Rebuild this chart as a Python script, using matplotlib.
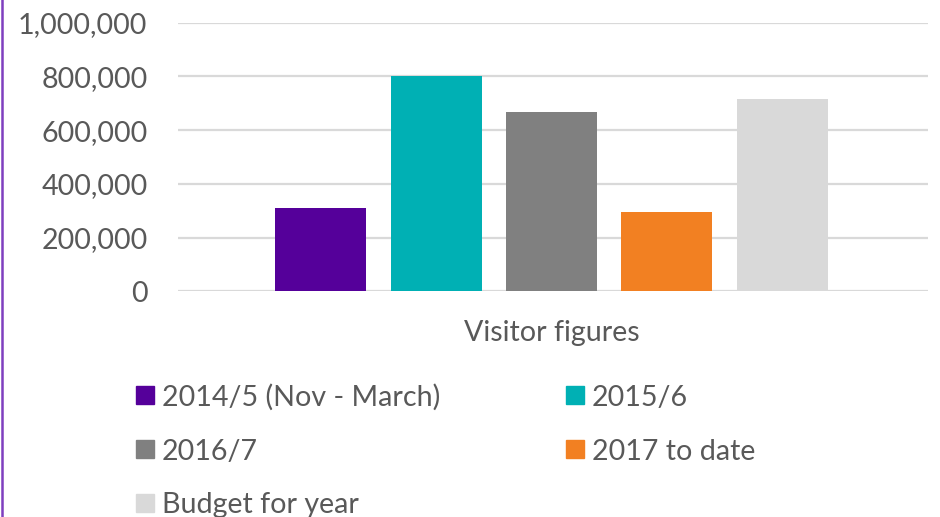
import matplotlib
matplotlib.use("Agg")
import matplotlib.pyplot as plt
from matplotlib.patches import Rectangle
from matplotlib.lines import Line2D
from matplotlib.ticker import FuncFormatter

plt.rcParams['font.family'] = ['Lato', 'DejaVu Sans']

category = "Visitor figures"
series = ["2014/5 (Nov - March)", "2015/6", "2016/7", "2017 to date", "Budget for year"]
values = [311000, 800000, 668000, 297000, 716000]
colors = ["#55009A", "#00B0B4", "#808080", "#F28022", "#D9D9D9"]
yticks = [0, 200000, 400000, 600000, 800000, 1000000]

W, H = 940, 517
FS = 20.6
fig = plt.figure(figsize=(W / 100, H / 100), dpi=100)
ax = fig.add_axes([178 / W, 1 - 291.3 / H, (928 - 178) / W, (291.3 - 22.7) / H])

text_color = "#595959"
grid_color = "#D9D9D9"

# layout in pixel-like units of the x axis (plot width 750)
plot_w = 750.0
bar_w = 91 / plot_w
step = 115.4 / plot_w
n = len(series)
for i, (s, v, c) in enumerate(zip(series, values, colors)):
    ax.bar((i - (n - 1) / 2) * step, v, width=bar_w, color=c, zorder=3, label=s)

ax.set_xlim(-0.5 + 1.5 / plot_w, 0.5 + 1.5 / plot_w)
ax.set_ylim(0, 1000000)
ax.set_yticks(yticks)
ax.yaxis.set_major_formatter(FuncFormatter(lambda v, p: f"{int(v):,}"))
ax.tick_params(axis='y', length=0, pad=22, labelsize=FS, labelcolor=text_color)
ax.set_xticks([0])
ax.set_xticklabels([category])
ax.tick_params(axis='x', length=0, pad=21, labelsize=FS, labelcolor=text_color)
ax.grid(axis='y', color=grid_color, linewidth=1.6, zorder=0)
for sp in ax.spines.values():
    sp.set_visible(False)
ax.set_axisbelow(True)

# legend drawn in a 2-column row-major grid
col_x = [136, 566]
row_y = [395, 449, 503]
sq = 18
for i, (s, c) in enumerate(zip(series, colors)):
    r, col = divmod(i, 2)
    x0 = col_x[col]
    yc = row_y[r]
    fig.patches.append(Rectangle((x0 / W, 1 - (yc + sq / 2) / H), sq / W, sq / H,
                                 transform=fig.transFigure, color=c, figure=fig))
    fig.text((x0 + sq + 8) / W, 1 - yc / H, s, fontsize=FS, color=text_color,
             ha='left', va='center_baseline')

# left purple border
fig.add_artist(Line2D([2 / W, 2 / W], [0, 1], transform=fig.transFigure,
                      color="#7F3FBF", linewidth=1.8))

fig.savefig("out.png", dpi=100)
